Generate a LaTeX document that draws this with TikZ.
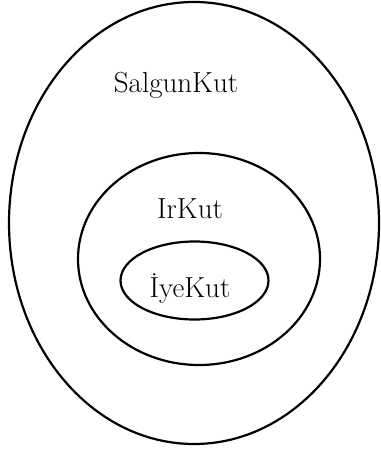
\documentclass[tikz,border=0pt]{standalone}
\usepackage{fontspec}
\begin{document}
\begin{tikzpicture}[x=1pt,y=-1pt,
  ring/.style={draw=black,line width=2.2pt},
  lbl/.style={font=\fontsize{29}{34}\selectfont,anchor=base,inner sep=0pt}]
\useasboundingbox (0,0) rectangle (380,449);
\draw[ring] (194,223) ellipse [x radius=185, y radius=221];
\draw[ring] (199,259) ellipse [x radius=121, y radius=106];
\draw[ring] (194.5,280.5) ellipse [x radius=74, y radius=39];
\node[lbl] (salgun) at (176,93) {SalgunKut};
\node[lbl] (ir) at (190,218) {IrKut};
\node[lbl] (iye) at (190,297) {İyeKut};
\end{tikzpicture}
\end{document}
